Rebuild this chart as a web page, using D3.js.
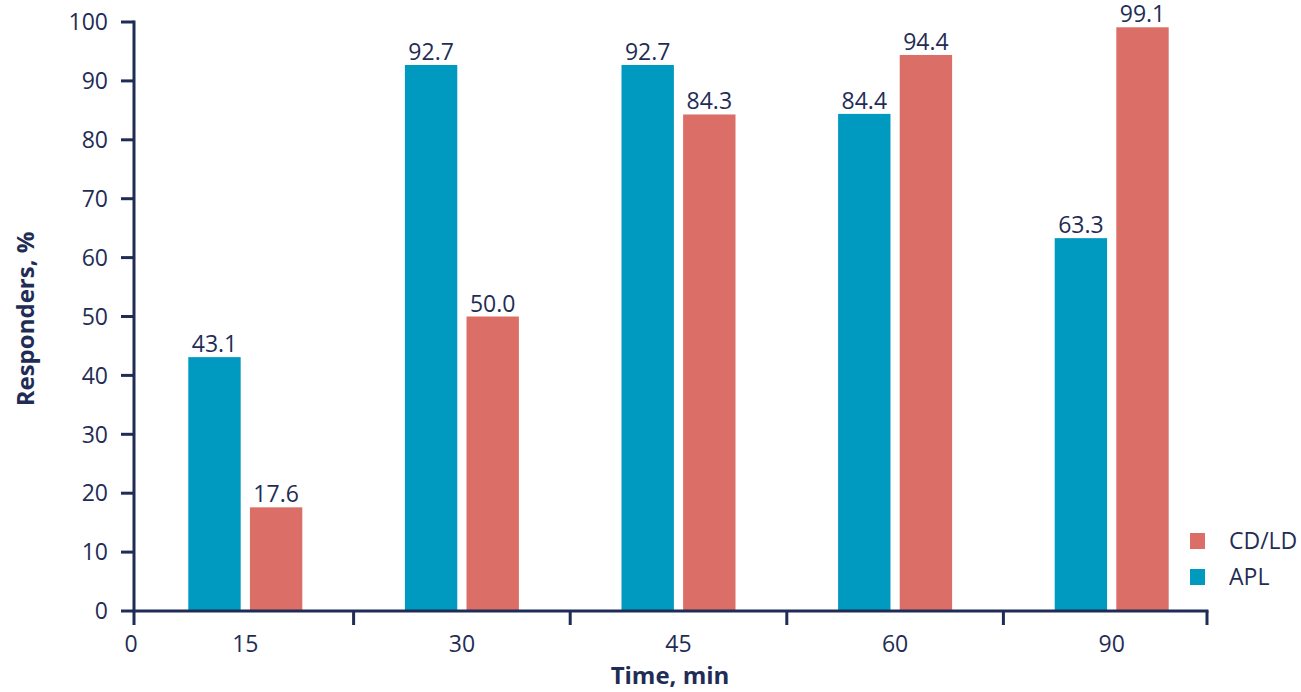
<!DOCTYPE html>
<html><head><meta charset="utf-8">
<script src="https://cdn.jsdelivr.net/npm/d3@7"></script>
<style>
html,body{margin:0;padding:0;background:#fff;}
text{font-family:"Open Sans",sans-serif;}
</style></head>
<body><svg id="c" width="1301" height="692"></svg>
<script>
const categories = ["15","30","45","60","90"];
const seriesNames = ["APL","CD/LD"];
const aplValues = [43.1, 92.7, 92.7, 84.4, 63.3];
const cdldValues = [17.6, 50.0, 84.3, 94.4, 99.1];
const yTicks = [0,10,20,30,40,50,60,70,80,90,100];
const colors = {"APL":"#0099BF","CD/LD":"#DB6E66"};
const ink = "#1F2D56";
const fs = 23;

const svg = d3.select("#c");
const x0 = 134, yBase = 611, yTop = 22, axisEnd = 1207;
const x = d3.scaleBand().domain(categories).range([137, 1220]);
const xi = d3.scaleBand().domain(seriesNames).range([0, 114]).paddingInner(0.15);
const y = d3.scaleLinear().domain([0,100]).range([yBase, yTop]);

// bars
const data = categories.map((c,i)=>({cat:c, vals:[{s:"APL",v:aplValues[i]},{s:"CD/LD",v:cdldValues[i]}]}));
const g = svg.append("g");
data.forEach(d=>{
  const cx = x(d.cat) + x.bandwidth()/2 - 57;
  d.vals.forEach(p=>{
    g.append("rect").attr("x", cx + xi(p.s)).attr("y", y(p.v))
      .attr("width", xi.bandwidth()).attr("height", y(0)-y(p.v)).attr("fill", colors[p.s]);
    g.append("text").attr("x", cx + xi(p.s) + xi.bandwidth()/2).attr("y", y(p.v)-5)
      .attr("text-anchor","middle").attr("font-size",fs).attr("fill",ink).text(p.v.toFixed(1));
  });
});

// y axis
svg.append("line").attr("x1",x0).attr("x2",x0).attr("y1",yTop-1.5).attr("y2",625)
  .attr("stroke",ink).attr("stroke-width",3);
yTicks.forEach(t=>{
  svg.append("line").attr("x1",121).attr("x2",x0).attr("y1",y(t)).attr("y2",y(t))
    .attr("stroke",ink).attr("stroke-width",3);
  svg.append("text").attr("x",108).attr("y",y(t)).attr("dy","0.36em")
    .attr("text-anchor","end").attr("font-size",fs).attr("fill",ink).text(t);
});

// x axis
svg.append("line").attr("x1",x0-1.5).attr("x2",axisEnd+1.5).attr("y1",yBase).attr("y2",yBase)
  .attr("stroke",ink).attr("stroke-width",3);
const bounds = categories.slice(1).map(c=>x(c)).concat([axisEnd]);
bounds.forEach(b=>{
  svg.append("line").attr("x1",b).attr("x2",b).attr("y1",yBase).attr("y2",625)
    .attr("stroke",ink).attr("stroke-width",3);
});
svg.append("text").attr("x",x0-3).attr("y",652).attr("text-anchor","middle")
  .attr("font-size",fs).attr("fill",ink).text("0");
categories.forEach(c=>{
  svg.append("text").attr("x",x(c)+x.bandwidth()/2).attr("y",652).attr("text-anchor","middle")
    .attr("font-size",fs).attr("fill",ink).text(c);
});

// titles
svg.append("text").attr("x",670).attr("y",684).attr("text-anchor","middle")
  .attr("font-size",24).attr("font-weight","bold").attr("fill",ink).text("Time, min");
svg.append("text").attr("transform","translate(34,319) rotate(-90)").attr("text-anchor","middle")
  .attr("font-size",24).attr("font-weight","bold").attr("fill",ink).text("Responders, %");

// legend
const legendOrder = ["CD/LD","APL"];
legendOrder.forEach((s,i)=>{
  svg.append("rect").attr("x",1190).attr("y",533+i*36).attr("width",15).attr("height",16).attr("fill",colors[s]);
  svg.append("text").attr("x",1229).attr("y",541+i*36).attr("dy","0.36em")
    .attr("font-size",fs).attr("fill",ink).text(s);
});
</script></body></html>
